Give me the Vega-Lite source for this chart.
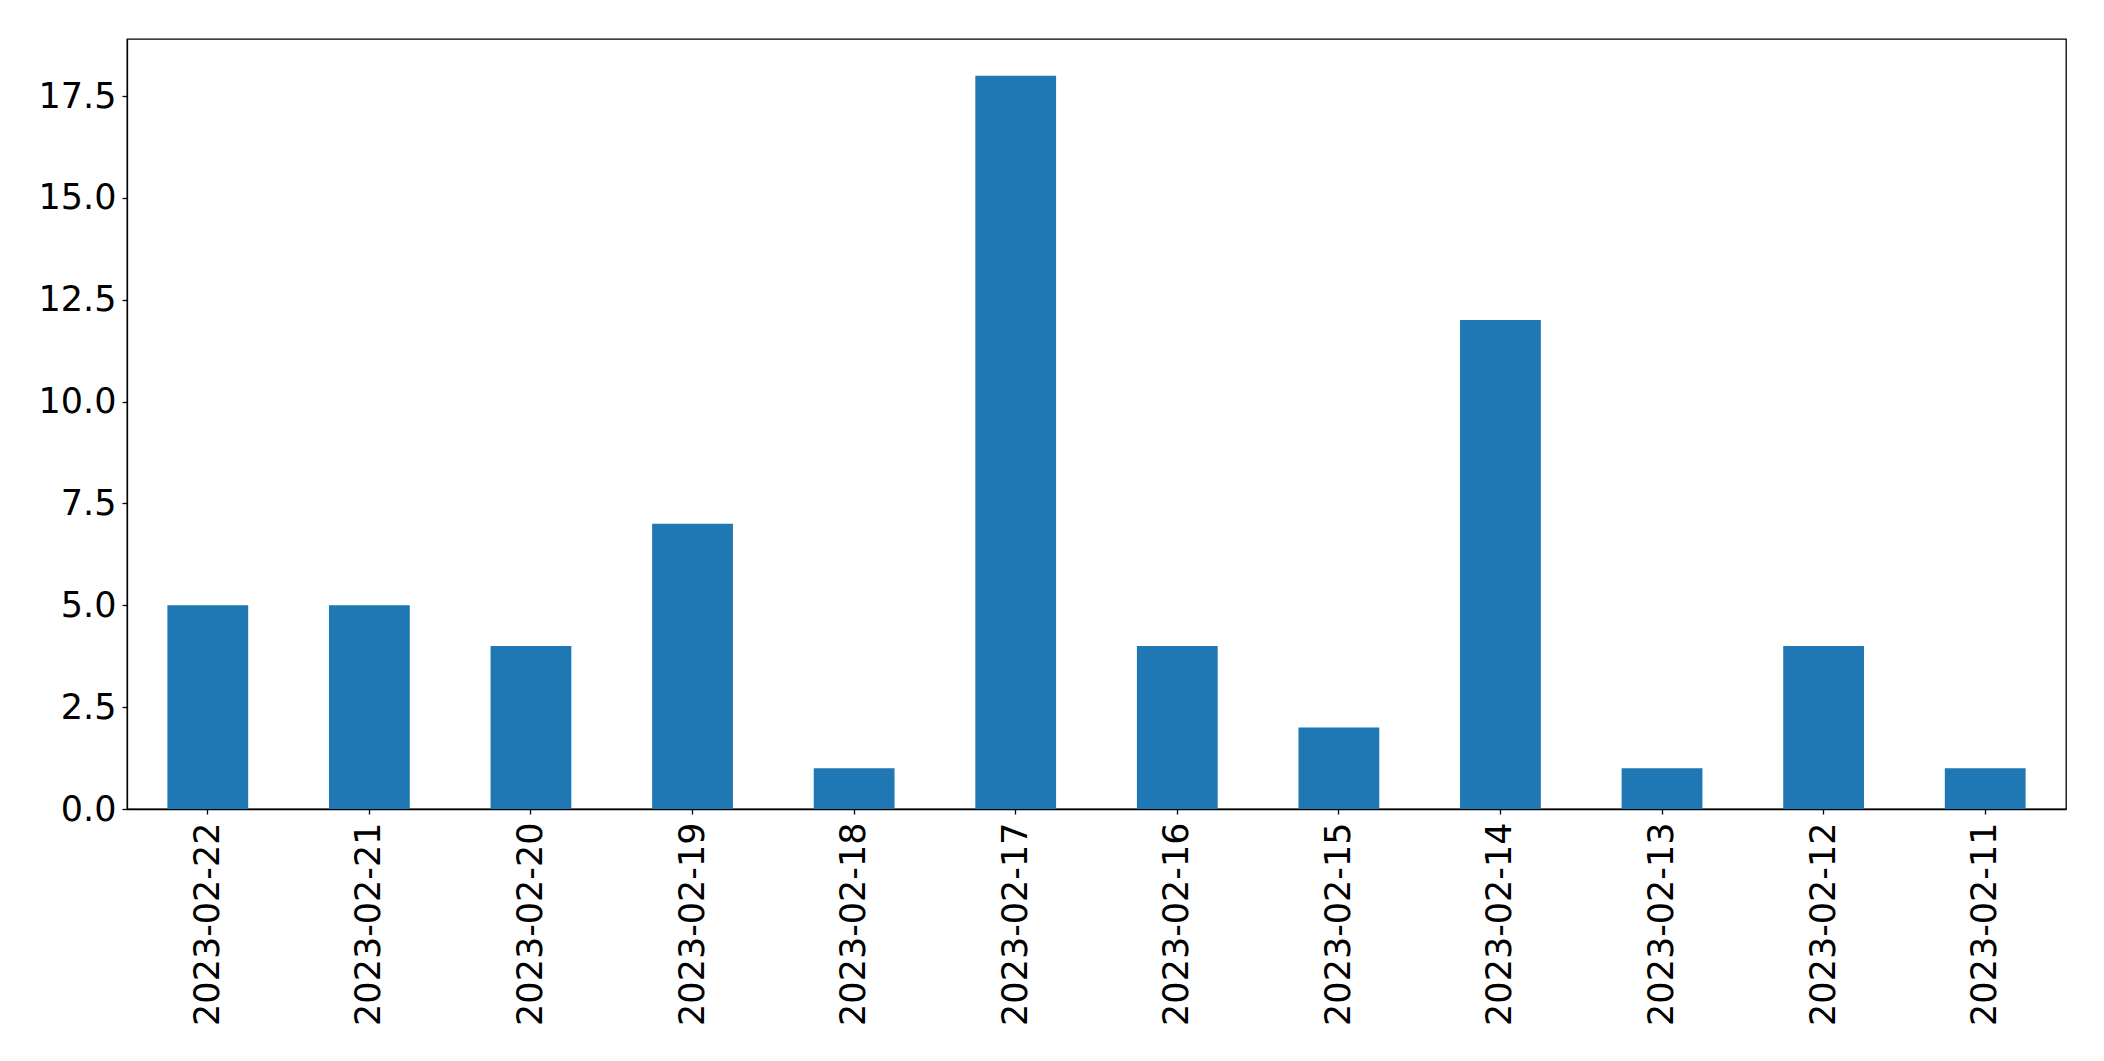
{
  "$schema": "https://vega.github.io/schema/vega-lite/v6.json",
  "autosize": {"type": "none"},
  "padding": {"left": 127, "top": 39, "right": 38, "bottom": 252},
  "width": 1939,
  "height": 770,
  "background": "white",
  "config": {
    "view": {"stroke": "black", "strokeWidth": 1.3},
    "axis": {
      "labelFont": "DejaVu Sans",
      "labelFontSize": 35,
      "labelColor": "black",
      "labelLimit": 0,
      "tickColor": "black",
      "domainColor": "black",
      "grid": false,
      "tickSize": 5,
      "tickWidth": 1.3,
      "domainWidth": 1.3,
      "title": null
    }
  },
  "data": {
    "values": [
      {"date": "2023-02-22", "count": 5},
      {"date": "2023-02-21", "count": 5},
      {"date": "2023-02-20", "count": 4},
      {"date": "2023-02-19", "count": 7},
      {"date": "2023-02-18", "count": 1},
      {"date": "2023-02-17", "count": 18},
      {"date": "2023-02-16", "count": 4},
      {"date": "2023-02-15", "count": 2},
      {"date": "2023-02-14", "count": 12},
      {"date": "2023-02-13", "count": 1},
      {"date": "2023-02-12", "count": 4},
      {"date": "2023-02-11", "count": 1}
    ]
  },
  "mark": {"type": "bar", "color": "#1f77b4"},
  "encoding": {
    "x": {
      "field": "date",
      "type": "nominal",
      "sort": null,
      "scale": {"paddingInner": 0.5, "paddingOuter": 0.25},
      "axis": {"labelAngle": 270, "labelPadding": 8, "labelAlign": "right", "labelBaseline": "middle"}
    },
    "y": {
      "field": "count",
      "type": "quantitative",
      "scale": {"domain": [0, 18.9], "nice": false, "zero": true},
      "axis": {"values": [0, 2.5, 5, 7.5, 10, 12.5, 15, 17.5], "format": ".1f", "labelPadding": 6}
    }
  }
}
